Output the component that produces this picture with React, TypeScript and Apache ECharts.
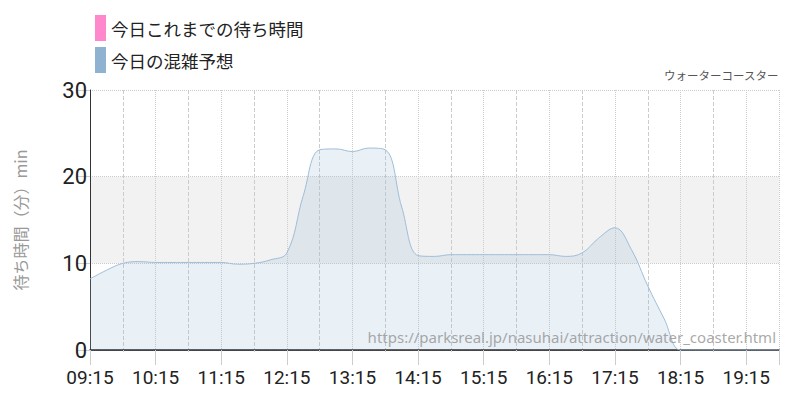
import React, { useEffect, useRef } from "react";
import * as echarts from "echarts";

const times = [
  "09:15", "09:30", "09:45", "10:00", "10:15", "10:30", "10:45", "11:00", "11:15", "11:30", "11:45",
  "12:00", "12:15", "12:30", "12:45", "13:00", "13:15", "13:30", "13:45", "14:00", "14:15", "14:30",
  "14:45", "15:00", "15:15", "15:30", "15:45", "16:00", "16:15", "16:30", "16:45", "17:00", "17:15",
  "17:30", "17:45", "18:00", "18:15", "18:30", "18:45", "19:00", "19:15", "19:30", "19:45",
];
const forecast = [
  8.2, 9.2, 10.0, 10.2, 10.1, 10.1, 10.1, 10.1, 10.1, 9.9, 10.0,
  10.4, 11.2, 17.8, 23.1, 23.2, 22.9, 23.3, 23.1, 16.5, 10.9, 10.8,
  11.0, 11.0, 11.0, 11.0, 11.0, 11.0, 11.0, 10.8, 11.2, 12.9, 14.1,
  11.6, 7.4, 3.6, 0, 0, 0, 0, 0, 0, 0,
];
const actual: number[] = [];
const yTicks = [0, 10, 20, 30];
const seriesNames = ["今日これまでの待ち時間", "今日の混雑予想"];
const title = "ウォーターコースター";
const yName = "待ち時間（分）min";
const sourceUrl = "https://parksreal.jp/nasuhai/attraction/water_coaster.html";

const toMin = (t: string) => {
  const [h, m] = t.split(":").map(Number);
  return h * 60 + m;
};
const start = toMin(times[0]);
const fmt = (v: number) => {
  const t = start + v;
  const h = Math.floor(t / 60);
  const m = t % 60;
  return `${String(h).padStart(2, "0")}:${String(m).padStart(2, "0")}`;
};

const numFont = "Roboto, sans-serif";
const jpFont = "'Noto Sans CJK JP', 'Noto Sans', sans-serif";

export default function App() {
  const ref = useRef<HTMLDivElement>(null);
  useEffect(() => {
    if (!ref.current) return;
    const chart = echarts.init(ref.current, undefined, { renderer: "svg" });
    chart.setOption({
      animation: false,
      backgroundColor: "#ffffff",
      title: {
        text: title,
        right: 21,
        top: 69,
        padding: 0,
        textStyle: { fontSize: 11.5, fontWeight: "normal", color: "#555", fontFamily: jpFont },
      },
      legend: {
        orient: "vertical",
        left: 95,
        top: 15,
        padding: 0,
        itemWidth: 11,
        itemHeight: 26,
        itemGap: 6,
        icon: "rect",
        textStyle: { fontSize: 17.5, color: "#222", fontFamily: jpFont },
        data: seriesNames,
      },
      grid: { left: 90, right: 21, top: 90, bottom: 50, containLabel: false },
      xAxis: {
        type: "value",
        min: 0,
        max: toMin(times[times.length - 1]) - start,
        interval: 60,
        axisLine: { show: true, onZero: false, lineStyle: { color: "#111", width: 1.5 } },
        axisTick: { show: true, length: 15, lineStyle: { color: "#ccc" } },
        axisLabel: {
          formatter: (v: number) => fmt(v),
          fontSize: 19,
          color: "#222",
          fontFamily: numFont,
          margin: 18,
          showMaxLabel: false,
        },
        splitLine: { show: true, lineStyle: { color: "#ccc", type: "dotted" } },
        minorTick: { show: true, splitNumber: 2, length: 2, lineStyle: { color: "#ccc" } },
        minorSplitLine: { show: true, lineStyle: { color: "#ccc", type: "dashed" } },
      },
      yAxis: {
        type: "value",
        min: 0,
        max: 30,
        interval: 10,
        name: yName,
        nameLocation: "middle",
        nameGap: 62,
        nameTextStyle: { fontSize: 16, color: "#999", fontFamily: jpFont },
        axisLine: { show: true, lineStyle: { color: "#333", width: 1 } },
        axisTick: { show: true, length: 14, lineStyle: { color: "#ccc" } },
        axisLabel: {
          fontSize: 22,
          color: "#222",
          fontFamily: numFont,
          margin: 3,
          formatter: (v: number) => (yTicks.includes(v) ? String(v) : ""),
        },
        splitLine: { show: true, lineStyle: { color: "#ccc", type: "dotted" } },
        splitArea: {
          show: true,
          areaStyle: { color: ["rgba(0,0,0,0)", "#f2f2f2", "rgba(0,0,0,0)"] },
        },
      },
      graphic: [
        {
          type: "text",
          right: 24,
          top: 329,
          silent: true,
          z: 100,
          style: {
            text: sourceUrl,
            fontSize: 15,
            fill: "rgba(140,140,140,0.75)",
            fontFamily: "'Noto Sans', sans-serif",
          },
        },
      ],
      series: [
        {
          name: seriesNames[0],
          type: "line",
          data: actual.map((v, i) => [toMin(times[i]) - start, v]),
          itemStyle: { color: "#ff88cc" },
          showSymbol: false,
        },
        {
          name: seriesNames[1],
          type: "line",
          smooth: 0.4,
          showSymbol: false,
          data: forecast.map((v, i) => [toMin(times[i]) - start, v]),
          itemStyle: { color: "#8fb2d0" },
          lineStyle: { color: "#9fbdd8", width: 1 },
          areaStyle: { color: "rgba(143,178,208,0.28)" },
        },
      ],
    });
    return () => chart.dispose();
  }, []);
  return <div ref={ref} style={{ width: 800, height: 400, position: "absolute", left: 0, top: 0 }} />;
}
